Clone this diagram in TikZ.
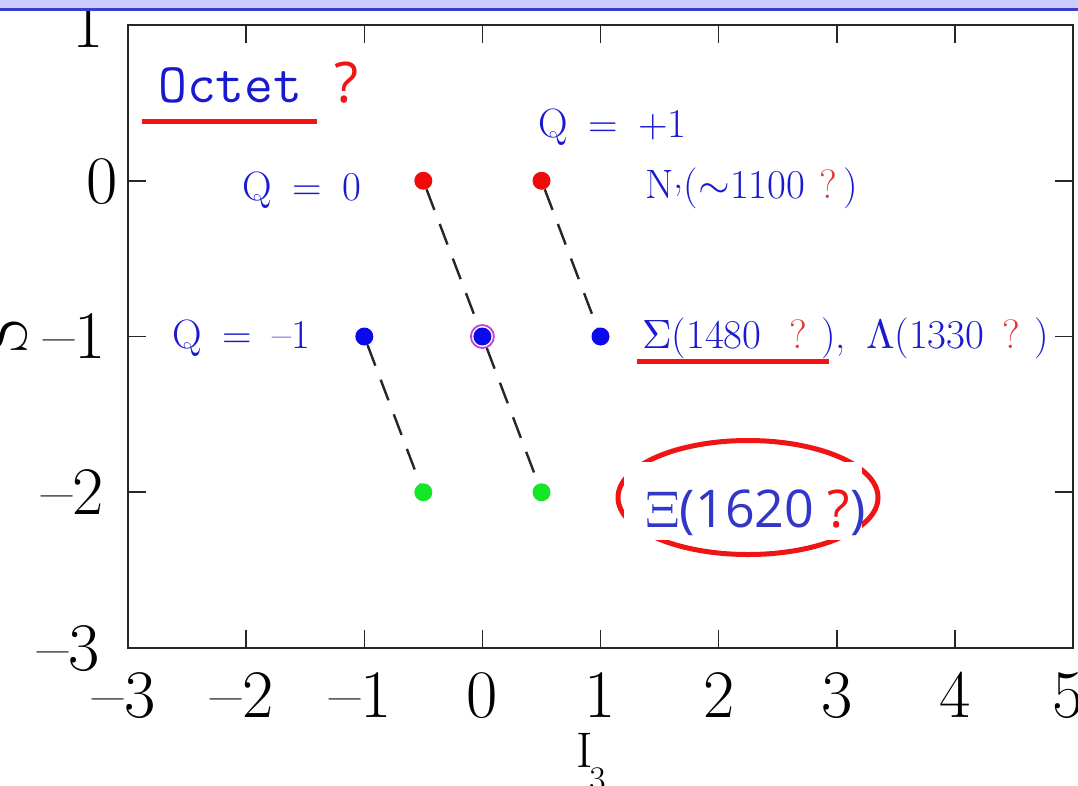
\documentclass[tikz,border=0pt]{standalone}
\usepackage{unicode-math}
\newfontfamily\comicfont{Open Sans}
\definecolor{lblue}{RGB}{25,25,210}
\definecolor{xiblue}{RGB}{50,55,200}
\definecolor{qred}{RGB}{225,55,55}
\definecolor{hred}{RGB}{240,20,20}
\definecolor{dotred}{RGB}{240,10,10}
\definecolor{dotblue}{RGB}{10,10,235}
\definecolor{dotgreen}{RGB}{20,230,40}
\definecolor{ringmag}{RGB}{205,60,205}
\definecolor{bandc}{RGB}{204,204,255}
\definecolor{bandline}{RGB}{60,60,205}
\begin{document}
\begin{tikzpicture}[x=1pt,y=-1pt,
  dot/.style={circle,inner sep=0pt,minimum size=18pt,draw=none},
  ringdot/.style={circle,inner sep=0pt,minimum size=23pt,draw=ringmag,line width=1.8pt,fill=white,
    path picture={\fill[dotblue] (path picture bounding box.center) circle[radius=9pt];}},
  tlab/.style={font=\fontsize{68}{72}\selectfont,inner sep=0pt},
  lab/.style={font=\fontsize{41}{44}\selectfont,text=lblue,inner sep=0pt,anchor=base west},
  conn/.style={draw=black!85,line width=2.4pt,dash pattern=on 22pt off 15pt},
  axtick/.style={line width=1.6pt,draw=black!85},
  hl/.style={draw=hred,line width=5pt},
]
\useasboundingbox (0,0) rectangle (1078,785);
\fill[white] (0,0) rectangle (1078,785);

% frame and ticks
\draw[line width=2.2pt,black!85] (128,25) rectangle (1073,648);
\foreach \x in {246.1,364.3,482.4,600.5,718.6,836.8,954.9} {
  \draw[axtick] (\x,25) -- (\x,43);
  \draw[axtick] (\x,648) -- (\x,630);
}
\foreach \y in {180.75,336.5,492.25} {
  \draw[axtick] (128,\y) -- (146,\y);
  \draw[axtick] (1073,\y) -- (1055,\y);
}

% tick labels
\node[tlab,anchor=base] (xt1) at (124,717) {\textendash3};
\node[tlab,anchor=base] (xt2) at (242.1,717) {\textendash2};
\node[tlab,anchor=base] (xt3) at (360.3,717) {\textendash1};
\node[tlab,anchor=base] (xt4) at (482.4,717) {0};
\node[tlab,anchor=base] (xt5) at (600.5,717) {1};
\node[tlab,anchor=base] (xt6) at (718.6,717) {2};
\node[tlab,anchor=base] (xt7) at (836.8,717) {3};
\node[tlab,anchor=base] (xt8) at (954.9,717) {4};
\node[tlab,anchor=base] (xt9) at (1068,717) {5};
\node[tlab,anchor=base east] (yt1) at (104,47) {1};
\node[tlab,anchor=base east] (yt2) at (118,203) {0};
\node[tlab,anchor=base east] (yt3) at (106,358) {\textendash1};
\node[tlab,anchor=base east] (yt4) at (104,514) {\textendash2};
\node[tlab,anchor=base east] (yt5) at (100,670) {\textendash3};
\node[tlab,rotate=90] (ylab) at (3,336) {S};
\node[font=\fontsize{50}{54}\selectfont,anchor=base west,inner sep=0pt] (xlab) at (576,767)
  {I\kern-3pt\raisebox{-24pt}{\fontsize{36}{40}\selectfont 3}};

% dots
\node[dot,fill=dotred] (r1) at (423.3,180.75) {};
\node[dot,fill=dotred] (r2) at (541.5,180.75) {};
\node[dot,fill=dotblue] (bm) at (364.3,336.5) {};
\node[ringdot] (b0) at (482.4,336.5) {};
\node[dot,fill=dotblue] (bp) at (600.5,336.5) {};
\node[dot,fill=dotgreen] (g1) at (423.3,492.25) {};
\node[dot,fill=dotgreen] (g2) at (541.5,492.25) {};

% connectors
\draw[conn] (r1) -- (b0);
\draw[conn] (b0) -- (g2);
\draw[conn] (r2) -- (bp);
\draw[conn] (bm) -- (g1);

% labels
\node[lab] (qp) at (538,137) {Q\enspace=\enspace+1};
\node[lab] (q0) at (242,200) {Q\enspace=\enspace0};
\node[lab] (qm) at (172,348) {Q\enspace=\enspace\textendash1};
\node[lab] (nl) at (645,198) {N\raisebox{0.22em}{,}($\sim$1100\hspace{14pt}{\color{qred}?}\hspace{6pt})};
\node[lab] (sl) at (642,348) {$\Sigma$(1480\hspace{28pt}{\color{qred}?}\hspace{14pt}),\hspace{20pt}$\Lambda$(1330\hspace{18pt}{\color{qred}?}\hspace{14pt})};
\draw[hl] (637,361.5) -- (829,361.5);

% Octet
\node[font={\ttfamily\fontsize{56}{60}\selectfont},text=lblue,anchor=base west,inner sep=0pt] (oct) at (158,102) {Octet};
\node[font={\comicfont\fontsize{56}{60}\selectfont},text=hred,anchor=base west,inner sep=0pt] (octq) at (334,102) {?};
\draw[hl] (142,121.5) -- (317,121.5);

% Xi
\draw[hred,line width=5pt] (748,497.5) ellipse[x radius=130pt,y radius=57pt];
\fill[white] (624,462) rectangle (862,540);
\node[font={\comicfont\fontsize{52}{56}\selectfont},text=xiblue,anchor=base west,inner sep=0pt] (xi) at (645,527)
  {$\Xi$(1620 {\color{hred}?})};

% top band
\fill[bandc] (0,0) rectangle (1078,8);
\draw[bandline,line width=3pt] (0,9.5) -- (1078,9.5);
\end{tikzpicture}
\end{document}
